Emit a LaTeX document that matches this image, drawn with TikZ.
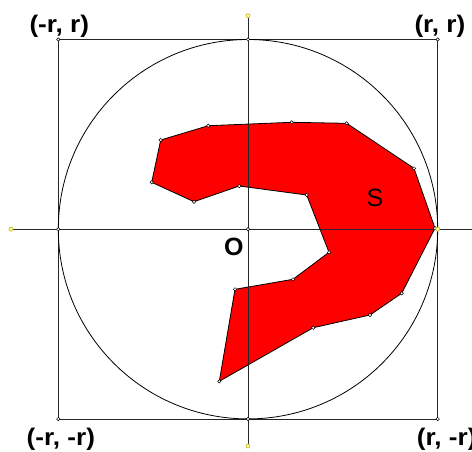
\documentclass[tikz,border=0pt]{standalone}
\usepackage{fontspec}
\setmainfont{Liberation Sans}
\newcommand{\widelbl}[1]{\scalebox{1.09}[1]{#1}}
\begin{document}
\begin{tikzpicture}[x=1pt,y=-1pt,
  edge/.style={draw=black!85,line width=0.8pt},
  vdot/.style={circle,draw=black,fill=white,line width=0.5pt,inner sep=0pt,minimum size=3.4pt},
  ydot/.style={circle,draw=yellow!75!black,fill=yellow!40!white,line width=0.7pt,inner sep=0pt,minimum size=4pt},
  corner/.style={inner sep=0pt,font=\fontsize{24}{24}\selectfont\bfseries,anchor=west},
  region/.style={fill=red,draw=black,line width=0.8pt,line join=miter}]
\useasboundingbox (0,0) rectangle (472,451);
% key points
\coordinate (O) at (248,229.2);
\coordinate (TL) at (58.3,39.4);
\coordinate (TR) at (437.7,39.4);
\coordinate (BR) at (437.7,419);
\coordinate (BL) at (58.3,419);
\coordinate (Ytop) at (248,15.7);
\coordinate (Ybot) at (248,446);
\coordinate (Xl) at (11,229.2);
\coordinate (Xr) at (480,229.2);
\coordinate (Xrp) at (437.7,229.2);
\coordinate (Xlp) at (58.3,229.2);
\coordinate (Ytp) at (248,39.4);
\coordinate (Ybp) at (248,419);
% square and circle
\draw[edge] (TL) -- (TR) -- (BR) -- (BL) -- cycle;
\draw[black,line width=0.8pt] (O) circle[radius=189.7];
% polygon S
\coordinate (p1) at (160.7,140);
\coordinate (p2) at (208.3,125.7);
\coordinate (p3) at (291.7,122.3);
\coordinate (p4) at (346.7,123.3);
\coordinate (p5) at (414,168.3);
\coordinate (p6) at (435,228.2);
\coordinate (p7) at (401.7,293.3);
\coordinate (p8) at (370,315);
\coordinate (p9) at (313.3,327.7);
\coordinate (p10) at (219.3,381.3);
\coordinate (p11) at (235,289.3);
\coordinate (p12) at (293,279.3);
\coordinate (p13) at (329,252.3);
\coordinate (p14) at (306.7,195);
\coordinate (p15) at (239.3,186);
\coordinate (p16) at (194,201.7);
\coordinate (p17) at (151.7,182.3);
\draw[region] (p1)--(p2)--(p3)--(p4)--(p5)--(p6)--(p7)--(p8)--(p9)--(p10)--(p11)--(p12)--(p13)--(p14)--(p15)--(p16)--(p17)--cycle;
% axes
\draw[edge] (Xl) -- (Xr);
\draw[edge] (Ytop) -- (Ybot);
% dots
\foreach \p in {p1,p2,p3,p4,p5,p6,p7,p8,p9,p10,p11,p12,p13,p14,p15,p16,p17,TL,TR,BR,BL,O,Xlp,Ytp,Ybp}
  \node[vdot] at (\p) {};
\foreach \p in {Ytop,Ybot,Xl,Xrp}
  \node[ydot] at (\p) {};
% labels
\node[corner] (lTL) at (29.3,25.8) {\widelbl{(-r, r)}};
\node[corner] (lTR) at (414.3,25.8) {\widelbl{(r, r)}};
\node[corner] (lBL) at (26.5,438.8) {\widelbl{(-r, -r)}};
\node[corner] (lBR) at (416.7,438.8) {\widelbl{(r, -r)}};
\node[inner sep=0pt,font=\fontsize{25}{25}\selectfont] (lS) at (375,198.3) {S};
\node[inner sep=0pt,font=\fontsize{25}{25}\selectfont\bfseries] (lO) at (233.8,247) {O};
\end{tikzpicture}
\end{document}
